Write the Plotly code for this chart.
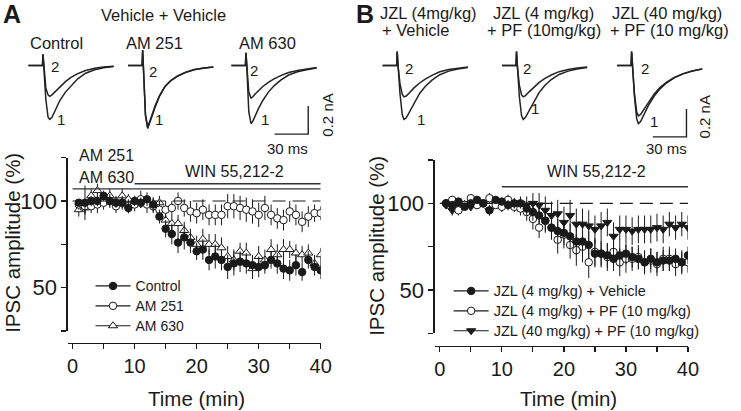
import plotly.graph_objects as go

W, H = 741, 411
FONT = "Liberation Sans, Arial, sans-serif"
INK = "#1a1a1a"

# ---------------- time-course data (min, % of baseline) ----------------
time_min = list(range(1, 41))

ctrl_A = [99, 99, 100, 100, 103, 100, 99, 99, 96, 100, 99, 101, 98, 91, 84, 81, 76, 79, 76, 71,
          72, 66, 68, 66, 62, 64, 65, 64, 63, 62, 63, 66, 64, 61, 60, 63, 59, 66, 62, 60]
ctrl_A_err = [2, 10, 3, 3, 3, 3, 3, 3, 3, 3, 3, 4, 4, 4, 5, 6, 6, 7, 6, 5,
              6, 6, 7, 6, 7, 7, 6, 6, 6, 6, 5, 5, 6, 6, 6, 6, 5, 5, 5, 5]
am251_A = [98, 97, 97, 98, 99, 100, 97, 99, 97, 98, 101, 98, 97, 95, 95, 96, 100, 96, 94, 93,
           95, 92, 92, 92, 97, 97, 96, 95, 94, 92, 96, 92, 90, 89, 94, 92, 88, 91, 93, 93]
am251_A_err = [3, 4, 4, 5, 4, 4, 4, 4, 4, 4, 5, 5, 4, 5, 5, 4, 5, 5, 6, 6,
               6, 6, 6, 6, 7, 7, 7, 7, 7, 7, 7, 6, 6, 6, 6, 6, 6, 6, 5, 4]
am630_A = [95, 96, 103, 106, 102, 103, 100, 103, 101, 100, 100, 99, 98, 99, 89, 87, 87, 83, 79, 75,
           78, 75, 75, 73, 68, 66, 71, 70, 61, 68, 66, 72, 69, 72, 72, 70, 69, 70, 64, 69]
am630_A_err = [4, 4, 4, 4, 3, 4, 3, 4, 3, 3, 3, 3, 4, 4, 4, 5, 5, 5, 5, 5,
               6, 6, 6, 6, 6, 6, 5, 6, 6, 6, 6, 6, 6, 6, 5, 5, 5, 5, 5, 4]

jzl4_veh_B = [100, 99, 101, 98, 100, 102, 100, 96, 102, 101, 99, 100, 100, 97, 95, 93, 90, 86, 84, 83,
              81, 78, 78, 76, 71, 71, 70, 68, 70, 71, 69, 68, 66, 68, 66, 67, 67, 68, 66, 70]
jzl4_veh_B_err = [2, 2, 2, 2, 2, 2, 2, 3, 2, 2, 3, 3, 3, 4, 5, 5, 6, 6, 7, 7,
                  7, 8, 8, 8, 8, 7, 7, 7, 7, 6, 6, 6, 6, 6, 6, 6, 6, 6, 6, 5]
jzl4_pf_B = [100, 102, 96, 99, 103, 99, 100, 103, 99, 98, 102, 98, 97, 95, 91, 86, 90, 86, 79, 82,
             76, 73, 75, 66, 72, 71, 69, 72, 66, 68, 68, 69, 66, 67, 65, 68, 68, 65, 66, 66]
jzl4_pf_B_err = [2, 2, 3, 2, 2, 2, 2, 3, 2, 3, 3, 3, 4, 5, 6, 6, 7, 7, 8, 8,
                 8, 9, 9, 9, 8, 8, 8, 8, 8, 8, 7, 7, 7, 7, 7, 7, 7, 7, 7, 6]
jzl40_pf_B = [99, 96, 99, 100, 98, 99, 100, 96, 100, 101, 100, 100, 100, 99, 100, 99, 96, 93, 94, 89,
              93, 88, 88, 87, 85, 87, 89, 81, 85, 85, 84, 85, 85, 85, 86, 85, 88, 86, 88, 86]
jzl40_pf_B_err = [2, 3, 2, 2, 2, 2, 2, 3, 2, 2, 3, 3, 4, 5, 6, 7, 8, 8, 8, 9,
                  9, 9, 9, 9, 8, 8, 8, 8, 8, 8, 8, 8, 8, 8, 8, 8, 7, 7, 7, 7]

x_ticks = [0, 5, 10, 15, 20, 25, 30, 35, 40]
x_ticktext = ["0", "", "10", "", "20", "", "30", "", "40"]
y_ticks = [25, 50, 75, 100, 125]
y_ticktext = ["", "50", "", "100", ""]

# drug application bars (start, end, level)
am_bar_A = [0, 40, 107]
win_bar_A = [10, 40, 110]
win_bar_B = [10, 40, 109.6]
baseline_level = 100

# ---------------- example IPSC traces (ms, nA) ----------------
trace_t = [-13, -0.5, 0, 0.7, 2.5, 4.5, 6, 8, 11, 15, 20, 25, 31, 38, 46, 54, 63]
ctrl_1 = [0, 0, 0.08, 0, -0.24, -0.37, -0.385, -0.37, -0.32, -0.25, -0.19, -0.145, -0.095, -0.055, -0.03, -0.016, -0.008]
ctrl_2 = [0, 0, 0.08, 0, -0.16, -0.21, -0.22, -0.21, -0.185, -0.15, -0.115, -0.085, -0.058, -0.036, -0.02, -0.011, -0.005]
am251_1 = [0, 0, 0.11, 0, -0.36, -0.45, -0.42, -0.37, -0.30, -0.22, -0.15, -0.11, -0.077, -0.05, -0.03, -0.018, -0.01]
am251_2 = [0, 0, 0.11, 0, -0.35, -0.44, -0.41, -0.36, -0.29, -0.215, -0.148, -0.107, -0.075, -0.049, -0.029, -0.018, -0.01]
am630_1 = [0, 0, 0.09, 0, -0.33, -0.415, -0.40, -0.36, -0.31, -0.25, -0.19, -0.145, -0.105, -0.068, -0.045, -0.03, -0.018]
am630_2 = [0, 0, 0.09, 0, -0.19, -0.233, -0.225, -0.205, -0.18, -0.15, -0.12, -0.095, -0.072, -0.05, -0.035, -0.024, -0.015]
b1_1 = [0, 0, 0.1, 0, -0.2, -0.35, -0.385, -0.375, -0.33, -0.265, -0.2, -0.15, -0.105, -0.066, -0.04, -0.025, -0.014]
b1_2 = [0, 0, 0.1, 0, -0.13, -0.205, -0.224, -0.218, -0.195, -0.16, -0.125, -0.097, -0.07, -0.045, -0.028, -0.018, -0.01]
b2_1 = [0, 0, 0.1, 0, -0.22, -0.36, -0.385, -0.37, -0.325, -0.26, -0.195, -0.145, -0.1, -0.064, -0.04, -0.025, -0.014]
b2_2 = [0, 0, 0.1, 0, -0.14, -0.21, -0.224, -0.215, -0.19, -0.157, -0.122, -0.094, -0.068, -0.044, -0.028, -0.018, -0.01]
b3_1 = [0, 0, 0.1, 0, -0.22, -0.38, -0.415, -0.40, -0.35, -0.285, -0.22, -0.17, -0.125, -0.088, -0.06, -0.04, -0.025]
b3_2 = [0, 0, 0.1, 0, -0.2, -0.33, -0.36, -0.35, -0.315, -0.26, -0.205, -0.16, -0.12, -0.085, -0.058, -0.039, -0.024]

SCALE_MS = 30
SCALE_NA = 0.2


def px(x):
    return x / W


def py(y):
    return 1 - y / H


fig = go.Figure()

# ---------------- main time-course panels ----------------
def add_series(y, err, name, symbol, fill, xa, ya, legend, rank, name_px):
    size = 8 if "triangle" in symbol else 7.5
    fig.add_trace(go.Scatter(
        x=time_min, y=y, mode="markers", showlegend=False,
        xaxis=xa, yaxis=ya,
        marker=dict(symbol=symbol, size=size, color=fill, line=dict(color=INK, width=1)),
        error_y=dict(type="data", array=err, visible=True, color=INK, thickness=1, width=0),
    ))
    fig.add_trace(go.Scatter(
        x=[None], y=[None], mode="lines+markers",
        name=f"<span style='font-size:{name_px}px'>{name}</span>",
        legend=legend, legendrank=rank,
        xaxis=xa, yaxis=ya,
        line=dict(color=INK, width=1.2),
        marker=dict(symbol=symbol, size=size, color=fill, line=dict(color=INK, width=1)),
    ))


add_series(am630_A, am630_A_err, "AM 630", "triangle-up", "white", "x", "y", "legend", 3, 14)
add_series(am251_A, am251_A_err, "AM 251", "circle", "white", "x", "y", "legend", 2, 14)
add_series(ctrl_A, ctrl_A_err, "Control", "circle", INK, "x", "y", "legend", 1, 14)

add_series(jzl40_pf_B, jzl40_pf_B_err, "JZL (40 mg/kg) + PF (10 mg/kg)", "triangle-down", INK, "x2", "y2", "legend2", 3, 14.5)
add_series(jzl4_pf_B, jzl4_pf_B_err, "JZL (4 mg/kg) + PF (10 mg/kg)", "circle", "white", "x2", "y2", "legend2", 2, 14.5)
add_series(jzl4_veh_B, jzl4_veh_B_err, "JZL (4 mg/kg) + Vehicle", "circle", INK, "x2", "y2", "legend2", 1, 14.5)

axis_common = dict(showgrid=False, zeroline=False, showline=True, linecolor=INK, linewidth=1.2,
                   ticks="outside", tickcolor=INK, tickwidth=1.2, ticklen=5)
xfont = dict(family=FONT, size=20, color=INK)
yfont = dict(family=FONT, size=22, color=INK)

fig.update_layout(
    xaxis=dict(domain=[px(67.7), px(325)], range=[-0.8, 40], anchor="free", position=py(342.7),
               tickvals=x_ticks, ticktext=x_ticktext, tickfont=xfont, **axis_common),
    yaxis=dict(domain=[py(331), py(157.7)], range=[25, 125], anchor="x",
               tickvals=y_ticks, ticktext=y_ticktext, tickfont=yfont, **axis_common),
    xaxis2=dict(domain=[px(440.7), px(698.3)], range=[-0.85, 40], anchor="free", position=py(346),
                tickvals=x_ticks, ticktext=x_ticktext, tickfont=xfont, **axis_common),
    yaxis2=dict(domain=[py(333.4), py(160)], range=[25, 125], anchor="x2",
                tickvals=y_ticks, ticktext=y_ticktext, tickfont=yfont, **axis_common),
)

shapes = []
for xa, ya, bars in (("x", "y", [am_bar_A, win_bar_A]), ("x2", "y2", [win_bar_B])):
    shapes.append(dict(type="line", xref=xa, yref=ya, x0=0, x1=40, y0=baseline_level, y1=baseline_level,
                       line=dict(color=INK, width=1.1, dash="13px,7px")))
    for b in bars:
        shapes.append(dict(type="line", xref=xa, yref=ya, x0=b[0], x1=b[1], y0=b[2], y1=b[2],
                           line=dict(color="#333333", width=1.4)))

# ---------------- inset traces ----------------
PX_PER_MS = 1.14
T_RANGE = [-15, 66]
I_RANGE = [-0.56, 0.14]
inset_y_dom = [py(65.5 + 0.56 * 140), py(65.5 - 0.14 * 140)]
insets = [
    (42.7, ctrl_1, ctrl_2, (10.8, -0.01), (15.8, -0.386)),
    (144.0, am251_1, am251_2, (9.6, -0.04), (14.6, -0.386)),
    (249.0, am630_1, am630_2, (7.5, -0.036), (16.9, -0.386)),
    (402.7, b1_1, b1_2, (10.8, -0.024), (21.0, -0.386)),
    (524.0, b2_1, b2_2, (9.6, -0.02), (16.9, -0.31)),
    (641.0, b3_1, b3_2, (11.7, -0.02), (19.6, -0.40)),
]
annotations = []
layout_axes = {}
for i, (stim_px, tr1, tr2, lab2, lab1) in enumerate(insets):
    n = i + 3
    xa, ya = f"x{n}", f"y{n}"
    layout_axes[f"xaxis{n}"] = dict(domain=[px(stim_px + T_RANGE[0] * PX_PER_MS), px(stim_px + T_RANGE[1] * PX_PER_MS)],
                                    range=T_RANGE, visible=False, anchor=ya, fixedrange=True)
    layout_axes[f"yaxis{n}"] = dict(domain=inset_y_dom, range=I_RANGE, visible=False, anchor=xa, fixedrange=True)
    for tr in (tr1, tr2):
        fig.add_trace(go.Scatter(x=trace_t, y=tr, mode="lines", xaxis=xa, yaxis=ya, showlegend=False,
                                 line=dict(color="#222222", width=1.5)))
    annotations.append(dict(text="2", x=lab2[0], y=lab2[1], xref=xa, yref=ya, showarrow=False,
                            xanchor="center", yanchor="middle", font=dict(family=FONT, size=15, color=INK)))
    annotations.append(dict(text="1", x=lab1[0], y=lab1[1], xref=xa, yref=ya, showarrow=False,
                            xanchor="center", yanchor="middle", font=dict(family=FONT, size=15, color=INK)))

# scale bars (in the third inset of each panel)
for n, t_end, i_bot in ((5, 55.5, -0.49), (8, 48.9, -0.51)):
    fig.add_trace(go.Scatter(x=[t_end - SCALE_MS, t_end, t_end], y=[i_bot, i_bot, i_bot + SCALE_NA],
                             mode="lines", xaxis=f"x{n}", yaxis=f"y{n}", showlegend=False,
                             line=dict(color="#222222", width=1.4)))

fig.update_layout(**layout_axes)


def note(text, x, y, size=16.5, xanchor="center", angle=0, bold=False):
    annotations.append(dict(text=f"<b>{text}</b>" if bold else text, x=px(x), y=py(y),
                            xref="paper", yref="paper", showarrow=False, xanchor=xanchor,
                            yanchor="middle", textangle=angle,
                            font=dict(family=FONT, size=size, color=INK)))


note("A", 11.5, 14, size=25, bold=True)
note("B", 370, 14, size=25, bold=True)
note("Vehicle + Vehicle", 165, 15)
note("Control", 56.5, 43)
note("AM 251", 156.5, 43)
note("AM 630", 270.8, 43)
note("JZL (4mg/kg)", 383, 13, xanchor="left")
note("+ Vehicle", 385, 30, xanchor="left")
note("JZL (4 mg/kg)", 551.5, 13)
note("+ PF (10mg/kg)", 551.5, 30)
note("JZL (40 mg/kg)", 677, 13)
note("+ PF (10 mg/kg)", 679, 30)
note("30 ms", 291, 148, size=15)
note("0.2 nA", 331, 115, size=15, angle=-90)
note("30 ms", 676.7, 148, size=15)
note("0.2 nA", 715, 117, size=15, angle=-90)
note("AM 251", 77, 155, size=16, xanchor="left")
note("AM 630", 77, 177, size=16, xanchor="left")
note("WIN 55,212-2", 237, 172, size=16)
note("WIN 55,212-2", 605, 172, size=16)
note("IPSC amplitude (%)", 11, 243, size=20.5, angle=-90)
note("IPSC amplitude (%)", 381, 246, size=20.5, angle=-90)
note("Time (min)", 199, 398, size=20.5)
note("Time (min)", 577, 398, size=20.5)

legend_common = dict(bgcolor="rgba(0,0,0,0)", itemwidth=35, tracegroupgap=0,
                     xanchor="left", yanchor="top", traceorder="normal",
                     font=dict(family=FONT, size=13, color=INK))

fig.update_layout(
    width=W, height=H, margin=dict(l=0, r=0, t=0, b=0),
    paper_bgcolor="white", plot_bgcolor="rgba(0,0,0,0)",
    font=dict(family=FONT, color=INK),
    shapes=shapes, annotations=annotations,
    legend=dict(x=px(91), y=py(271), **legend_common),
    legend2=dict(x=px(455), y=py(276), **legend_common),
    showlegend=True,
)

fig.write_html("out.html", config={"displayModeBar": False, "staticPlot": True},
               post_script="document.body.style.margin='0';document.body.style.overflow='hidden';")
